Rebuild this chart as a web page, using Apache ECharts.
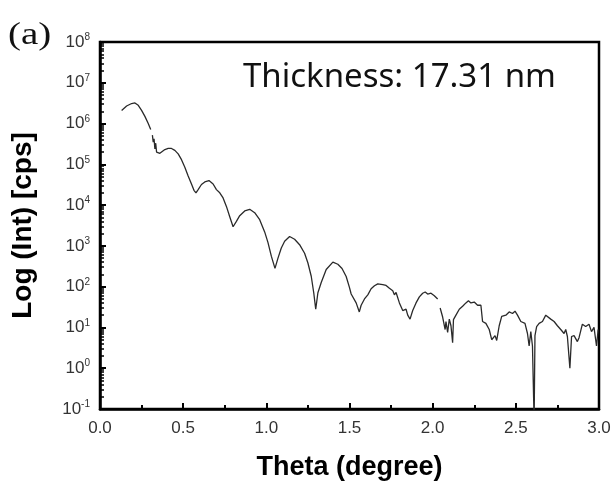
<!DOCTYPE html>
<html>
<head>
<meta charset="utf-8">
<script src="https://cdn.jsdelivr.net/npm/echarts@6/dist/echarts.min.js"></script>
<style>html,body{margin:0;padding:0;background:#fff}#c{width:613px;height:482px}</style>
</head>
<body>
<div id="c"></div>
<script>
// Theta (degree) and intensity (cps); null = gap in the recorded curve
const theta = [
 0.13,0.16,0.19,0.21,0.23,0.25,0.27,0.29,0.305,0.31,
 0.315,0.32,0.325,0.33,0.335,0.34,0.35,0.36,0.37,0.39,
 0.41,0.43,0.45,0.47,0.49,0.51,0.53,0.55,0.565,0.577,
 0.59,0.61,0.63,0.655,0.68,0.70,0.72,0.74,0.76,0.78,
 0.80,0.82,0.84,0.87,0.90,0.93,0.96,0.99,1.01,1.03,
 1.052,1.07,1.09,1.11,1.14,1.17,1.20,1.23,1.25,1.27,
 1.285,1.297,1.31,1.33,1.36,1.40,1.43,1.455,1.48,1.50,
 1.51,1.52,1.54,1.559,1.57,1.59,1.61,1.63,1.65,1.67,
 1.68,1.70,1.72,1.74,1.76,1.77,1.78,1.80,1.82,1.84,
 1.85,1.864,1.88,1.90,1.92,1.94,1.955,1.97,1.99,2.01,
 2.03,2.04,2.045,2.06,2.075,2.08,2.09,2.10,2.11,2.12,
 2.125,2.14,2.16,2.18,2.20,2.215,2.23,2.25,2.27,2.29,
 2.30,2.32,2.34,2.355,2.365,2.375,2.385,2.40,2.415,2.44,
 2.46,2.48,2.495,2.51,2.53,2.555,2.57,2.58,2.59,2.60,
 2.61,2.615,2.625,2.64,2.66,2.68,2.69,2.71,2.73,2.75,
 2.77,2.79,2.80,2.81,2.825,2.835,2.85,2.87,2.88,2.90,
 2.92,2.94,2.955,2.97,2.985,2.995
];
const intensity = [
 2.1e6,2.7e6,3.1e6,3.2e6,2.8e6,2.1e6,1.5e6,1.0e6,7.1e5,null,
 5.2e5,3.5e5,4.2e5,2.4e5,3.3e5,2.0e5,1.9e5,1.86e5,2.0e5,2.3e5,
 2.45e5,2.45e5,2.2e5,1.8e5,1.3e5,8.5e4,5.2e4,3.3e4,2.3e4,2.0e4,
 2.4e4,3.2e4,3.7e4,4.0e4,3.3e4,2.4e4,2.0e4,1.5e4,9.3e3,5.2e3,
 2.95e3,4.0e3,5.5e3,7.2e3,7.9e3,6.5e3,4.4e3,2.2e3,1.2e3,560,
 280,500,890,1300,1700,1450,1070,660,380,180,
 71,28,71,126,263,400,355,280,178,95,
 66,72,40,24,35,50,63,89,105,117,
 123,112,107,91,79,63,72,40,26,28,
 20,16,26,40,56,69,74,66,69,60,
 50,null,30,18,8.9,14,7.6,16,11,4.2,
 15.5,20,28,33,40,45,40,42,35,35,
 14,12.6,8.9,5,4.8,6.3,4.8,11,18.6,20,
 24,22,25,20,14,12.6,7.1,3.5,7.9,3.5,
 0.05,6.3,10.5,12.6,14,20,18,16,14,11,
 8.9,7.1,8.9,6,1,6,6.3,4.5,5.6,12,
 10.5,12,7.9,10,3.5,8.9
];
const xTickLabels = ['0.0','0.5','1.0','1.5','2.0','2.5','3.0'];
const annotation = 'Thickness: 17.31 nm';
const panelLabel = '(a)';

const chart = echarts.init(document.getElementById('c'), null, {renderer:'canvas'});
const seriesData = theta.map((t,i)=>[t, intensity[i]===null ? '-' : intensity[i]]);

chart.setOption({
  animation:false,
  backgroundColor:'#fff',
  grid:{left:100,top:42,right:14,bottom:73,containLabel:false,outerBoundsMode:'none',
    show:true,borderColor:'#000',borderWidth:2.5,backgroundColor:'transparent'},
  xAxis:{
    type:'value',min:0,max:3,interval:0.5,
    name:'Theta (degree)',nameLocation:'middle',nameGap:45,
    nameTextStyle:{fontFamily:'Liberation Sans',fontWeight:'bold',fontSize:27,color:'#000'},
    axisLine:{lineStyle:{color:'#000',width:2.5}},
    axisTick:{inside:true,length:6,lineStyle:{color:'#000',width:2}},
    minorTick:{show:true,splitNumber:2,length:4,lineStyle:{color:'#000',width:2}},
    splitLine:{show:false},
    axisLabel:{margin:11,fontFamily:'Liberation Sans',fontSize:17,color:'#333',
      formatter:(v)=>xTickLabels[Math.round(v/0.5)]}
  },
  yAxis:{
    type:'log',logBase:10,min:0.1,max:1e8,interval:1,
    name:'Log (Int) [cps]',nameLocation:'middle',nameGap:63,
    nameTextStyle:{fontFamily:'Liberation Sans',fontWeight:'bold',fontSize:28,color:'#000'},
    axisLine:{show:true,lineStyle:{color:'#000',width:2.5}},
    axisTick:{inside:true,length:6,lineStyle:{color:'#000',width:2}},
    minorTick:{show:true,splitNumber:9,length:4,lineStyle:{color:'#000',width:1.5}},
    splitLine:{show:false},
    axisLabel:{margin:10,color:'#333',
      formatter:(v)=>'{b|10}{s|'+Math.round(Math.log10(v))+'}',
      rich:{
        b:{fontFamily:'Liberation Sans',fontSize:17,color:'#333'},
        s:{fontFamily:'Liberation Sans',fontSize:10,color:'#333',verticalAlign:'top',padding:[0,0,9,0]}
      }}
  },
  series:[{
    type:'line',data:seriesData,showSymbol:false,symbol:'none',connectNulls:false,clip:true,
    lineStyle:{color:'#2a2a2a',width:1.3}
  }],
  graphic:[
    {type:'text',left:8,top:20,scaleX:1.22,style:{text:panelLabel,font:'32px "Liberation Serif"',fill:'#111'}},
    {type:'text',left:243,top:61,style:{text:annotation,font:'33px "Noto Sans"',fill:'#111'}}
  ]
});
</script>
</body>
</html>
